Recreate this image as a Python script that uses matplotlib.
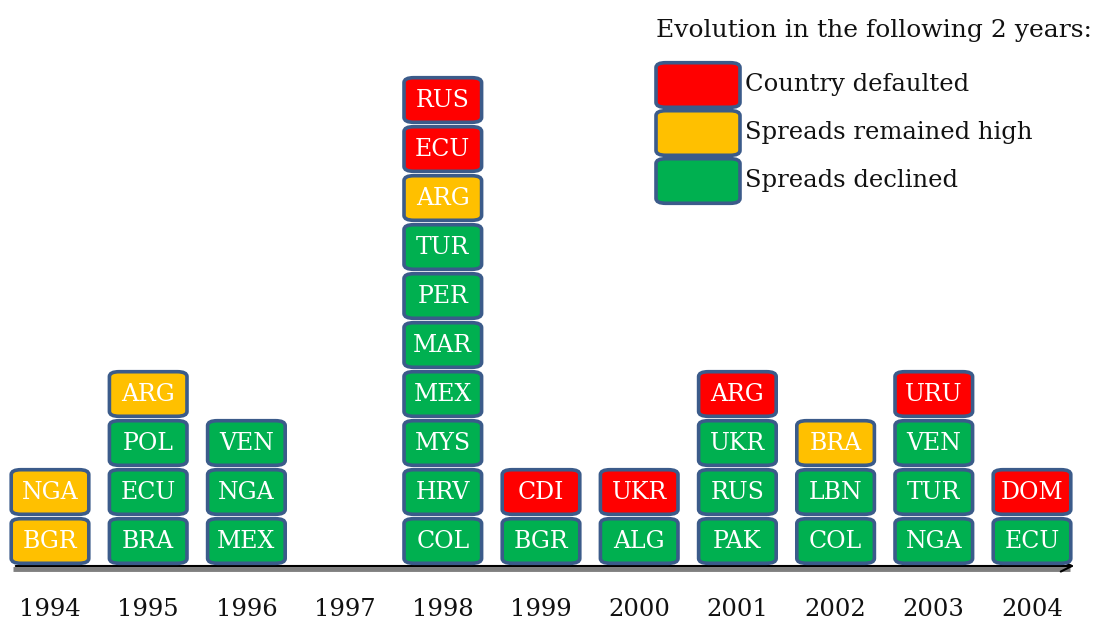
import matplotlib
matplotlib.use("Agg")
import matplotlib.pyplot as plt
from matplotlib.patches import FancyBboxPatch

years = ["1994", "1995", "1996", "1997", "1998", "1999", "2000", "2001", "2002", "2003", "2004"]
# countries stacked bottom -> top for each year
countries = [
    ["BGR", "NGA"],
    ["BRA", "ECU", "POL", "ARG"],
    ["MEX", "NGA", "VEN"],
    [],
    ["COL", "HRV", "MYS", "MEX", "MAR", "PER", "TUR", "ARG", "ECU", "RUS"],
    ["BGR", "CDI"],
    ["ALG", "UKR"],
    ["PAK", "RUS", "UKR", "ARG"],
    ["COL", "LBN", "BRA"],
    ["NGA", "TUR", "VEN", "URU"],
    ["ECU", "DOM"],
]
# outcome: D = defaulted, H = spreads remained high, L = spreads declined
outcomes = [
    ["H", "H"],
    ["L", "L", "L", "H"],
    ["L", "L", "L"],
    [],
    ["L", "L", "L", "L", "L", "L", "L", "H", "D", "D"],
    ["L", "D"],
    ["L", "D"],
    ["L", "L", "L", "D"],
    ["L", "L", "H"],
    ["L", "L", "L", "D"],
    ["L", "D"],
]
legend_title = "Evolution in the following 2 years:"
legend_keys = ["D", "H", "L"]
legend_labels = ["Country defaulted", "Spreads remained high", "Spreads declined"]

colors = {"D": "#FF0000", "H": "#FFC000", "L": "#00B050"}
edge = "#3B5B8A"
FONT = "DejaVu Serif"

fig = plt.figure(figsize=(10.94, 6.23), dpi=100)
ax = fig.add_axes([0, 0, 1, 1])
step = 98.2
ax.set_xlim(-50 / step, (1094 - 50) / step)
ax.set_ylim((541 - 623) / 49, 541 / 49)
ax.axis("off")

bw, bh = 0.79, 0.91

def box(x, y, color, label=None):
    p = FancyBboxPatch((x - bw / 2, y - bh / 2), bw, bh,
                       boxstyle="round,pad=0,rounding_size=0.1",
                       facecolor=color, edgecolor=edge, linewidth=2.6, zorder=3)
    ax.add_patch(p)
    if label:
        ax.text(x, y - 0.02, label, ha="center", va="center", color="white",
                fontsize=17, family=FONT, zorder=4)

for i, (cs, os) in enumerate(zip(countries, outcomes)):
    for r, (c, o) in enumerate(zip(cs, os)):
        box(i, r, colors[o], c)

# baseline axis with arrow
y_axis = (541 - 566) / 49
ax.plot([(13 - 50) / step, (1070 - 50) / step], [y_axis - 0.06, y_axis - 0.06],
        color="#7F7F7F", lw=3.5, zorder=1, solid_capstyle="butt")
ax.annotate("", xy=((1077 - 50) / step, y_axis), xytext=((13 - 50) / step, y_axis),
            arrowprops=dict(arrowstyle="->", color="black", lw=1.5,
                            mutation_scale=20), zorder=2)

for i, yr in enumerate(years):
    ax.text(i, (541 - 610) / 49, yr, ha="center", va="center",
            fontsize=17.5, family=FONT, color="#111111")

# legend
fig.text(656 / 1094, 1 - 30 / 623, legend_title, ha="left", va="center",
         fontsize=18, family=FONT, color="#111111")
lx0, lx1 = (656 - 50) / step, (740 - 50) / step
for k, (key, lab) in enumerate(zip(legend_keys, legend_labels)):
    yc = (541 - (85 + 48 * k)) / 49
    p = FancyBboxPatch((lx0, yc - bh / 2), lx1 - lx0, bh,
                       boxstyle="round,pad=0,rounding_size=0.1",
                       facecolor=colors[key], edgecolor=edge, linewidth=2.6, zorder=3)
    ax.add_patch(p)
    ax.text((745 - 50) / step, yc, lab, ha="left", va="center",
            fontsize=17.5, family=FONT, color="#111111")

fig.savefig("out.png", dpi=100)
